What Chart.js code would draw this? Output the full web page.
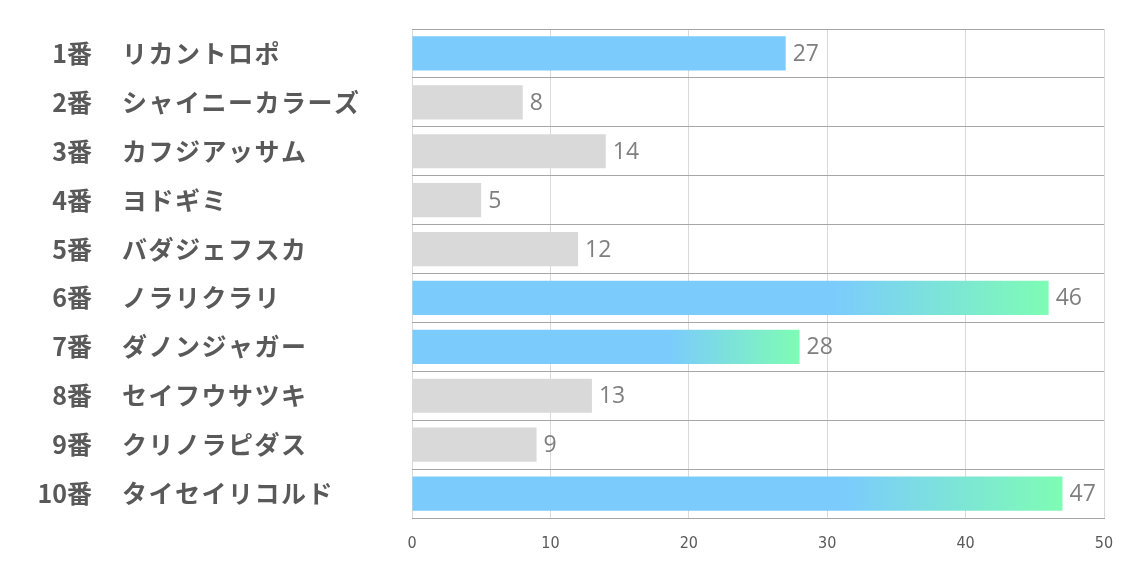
<!DOCTYPE html>
<html>
<head>
<meta charset="utf-8">
<script src="https://cdn.jsdelivr.net/npm/chart.js@4.4.0/dist/chart.umd.min.js"></script>
<style>
  body { margin: 0; background: #fff; }
  #wrap { width: 1134px; height: 567px; }
</style>
</head>
<body>
<div id="wrap"><canvas id="myChart" width="1134" height="567"></canvas></div>
<script>
// horse numbers and names
const numbers = ['1番', '2番', '3番', '4番', '5番', '6番', '7番', '8番', '9番', '10番'];
const names = ['リカントロポ', 'シャイニーカラーズ', 'カフジアッサム', 'ヨドギミ', 'バダジェフスカ',
               'ノラリクラリ', 'ダノンジャガー', 'セイフウサツキ', 'クリノラピダス', 'タイセイリコルド'];
const points = [27, 8, 14, 5, 12, 46, 28, 13, 9, 47];
const xTicks = [0, 10, 20, 30, 40, 50];

// bar look per row
const barKind = ['blue', 'gray', 'gray', 'gray', 'gray', 'grad', 'grad', 'gray', 'gray', 'grad'];

const BLUE = '#7bcbfd';
const GREEN = '#7efcb4';
const GRAY = '#d9d9d9';

function barColor(ctx){
    var kind = barKind[ctx.dataIndex];
    if(kind == 'gray') return GRAY;
    if(kind == 'blue') return BLUE;
    var chart = ctx.chart;
    if(!chart.chartArea) return BLUE;
    var x = chart.scales.x;
    var x0 = x.getPixelForValue(0);
    var x1 = x.getPixelForValue(points[ctx.dataIndex]);
    var g = chart.ctx.createLinearGradient(x0, 0, x1, 0);
    g.addColorStop(0, BLUE);
    g.addColorStop(0.66, BLUE);
    g.addColorStop(1, GREEN);
    return g;
}

// left labels: number right aligned, name left aligned
const sideLabels = {
    id: 'sideLabels',
    afterDraw(chart){
        var c = chart.ctx;
        var y = chart.scales.y;
        c.save();
        c.fillStyle = '#595959';
        c.font = 'bold 25px "Noto Sans CJK JP", "Noto Sans", sans-serif';
        c.textBaseline = 'middle';
        for(var i = 0; i < names.length; i++){
            var py = y.getPixelForValue(i);
            c.letterSpacing = '0px';
            c.textAlign = 'right';
            c.fillText(numbers[i], 92, py);
            c.letterSpacing = '1.5px';
            c.textAlign = 'left';
            c.fillText(names[i], 122, py);
        }
        c.restore();
    }
};

// value numbers at bar end
const valueLabels = {
    id: 'valueLabels',
    afterDatasetsDraw(chart){
        var c = chart.ctx;
        var meta = chart.getDatasetMeta(0);
        c.save();
        c.fillStyle = '#7f7f7f';
        c.font = '23px "Open Sans", "Noto Sans", sans-serif';
        c.textAlign = 'left';
        c.textBaseline = 'middle';
        meta.data.forEach(function(bar, i){
            c.fillText(String(points[i]), bar.x + 7, bar.y + 1);
        });
        c.restore();
    }
};

new Chart(document.getElementById('myChart').getContext('2d'), {
    type: 'bar',
    data: {
        labels: names,
        datasets: [{
            data: points,
            backgroundColor: barColor,
            borderWidth: 0,
            barPercentage: 0.7,
            categoryPercentage: 1.0
        }]
    },
    options: {
        indexAxis: 'y',
        responsive: false,
        animation: false,
        layout: { padding: { left: 412, right: 30, top: 29, bottom: 0 } },
        plugins: {
            legend: { display: false },
            tooltip: { enabled: false }
        },
        scales: {
            x: {
                min: 0,
                max: 50,
                afterBuildTicks: function(scale){
                    scale.ticks = xTicks.map(function(v){ return { value: v }; });
                },
                afterFit: function(scale){ scale.height = 49; },
                grid: { color: '#d9d9d9', drawTicks: false },
                border: { display: true, color: '#a6a6a6' },
                ticks: {
                    color: '#595959',
                    font: { family: '"Liberation Sans Narrow", "DejaVu Sans Condensed", sans-serif', size: 16 },
                    padding: 16
                }
            },
            y: {
                grid: { offset: true, color: '#a6a6a6', drawTicks: false },
                border: { display: false },
                ticks: { display: false },
                afterFit: function(scale){ scale.width = 0; }
            }
        }
    },
    plugins: [sideLabels, valueLabels]
});
</script>
</body>
</html>
